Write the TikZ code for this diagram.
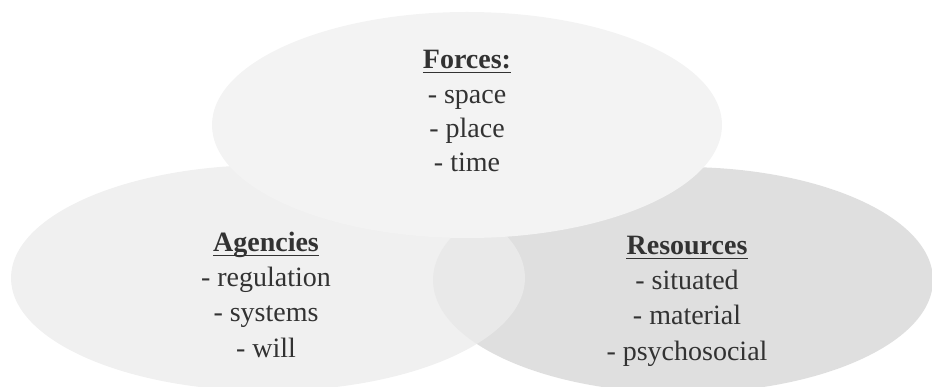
\documentclass[tikz,border=0pt]{standalone}
\usepackage{fontspec}
\setmainfont{Liberation Serif}
\usetikzlibrary{shapes.geometric}
\definecolor{topfill}{RGB}{243,243,243}
\definecolor{leftfill}{RGB}{236,236,236}
\definecolor{rightfill}{RGB}{223,223,223}
\definecolor{txt}{RGB}{50,50,50}
\tikzset{
  blob/.style={ellipse, inner sep=0pt, draw=none, minimum height=226pt},
  lbl/.style={anchor=base, inner sep=0pt, text=txt, font=\fontsize{28}{34}\selectfont},
  head/.style={lbl, font=\fontsize{28}{34}\selectfont\bfseries},
  uline/.style={draw=txt, line width=1.4pt}
}
\begin{document}
\begin{tikzpicture}[x=1pt, y=-1pt]
\useasboundingbox (0,0) rectangle (932,387);
\node[blob, fill=rightfill, minimum width=500pt] (R) at (683,280) {};
\node[blob, fill=leftfill, fill opacity=0.8, minimum width=514pt] (L) at (268,278) {};
\node[blob, fill=topfill, minimum width=510pt] (T) at (467,125) {};
% Forces
\node[head] (f0) at (467,69) {Forces:};
\draw[uline] ([yshift=-3.5pt]f0.base west) -- ([yshift=-3.5pt]f0.base east);
\node[lbl] (f1) at (467,103.5) {- space};
\node[lbl] (f2) at (467,138) {- place};
\node[lbl] (f3) at (467,172) {- time};
% Agencies
\node[head] (a0) at (266,252) {Agencies};
\draw[uline] ([yshift=-3.5pt]a0.base west) -- ([yshift=-3.5pt]a0.base east);
\node[lbl] (a1) at (266,287) {- regulation};
\node[lbl] (a2) at (266,322) {- systems};
\node[lbl] (a3) at (266,357) {- will};
% Resources
\node[head] (r0) at (687,255) {Resources};
\draw[uline] ([yshift=-3.5pt]r0.base west) -- ([yshift=-3.5pt]r0.base east);
\node[lbl] (r1) at (687,290) {- situated};
\node[lbl] (r2) at (687,325) {- material};
\node[lbl] (r3) at (687,360) {- psychosocial};
\end{tikzpicture}
\end{document}
